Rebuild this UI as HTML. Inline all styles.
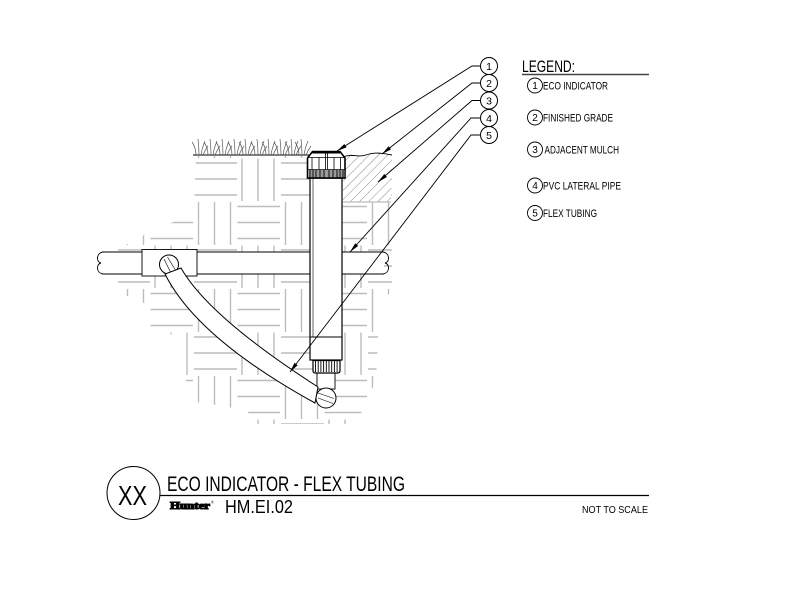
<!DOCTYPE html>
<html><head><meta charset="utf-8">
<style>html,body{margin:0;padding:0;background:#fff}svg{display:block}</style>
</head>
<body>
<svg width="792" height="612" viewBox="0 0 792 612" xmlns="http://www.w3.org/2000/svg" font-family="'Liberation Sans', Arial, sans-serif">
<defs>
  <pattern id="weave" patternUnits="userSpaceOnUse" x="237" y="158" width="87" height="87">
    <g stroke="#bcbcbc" stroke-width="1.4" fill="none">
      <path d="M5,0.5V43 M21,0.5V43 M37,0.5V43"/>
      <path d="M44,5H87 M44,21H87 M44,37H87"/>
      <path d="M0.5,48.5H43 M0.5,64.5H43 M0.5,80.5H43"/>
      <path d="M48.5,44V87 M64.5,44V87 M80.5,44V87"/>
    </g>
  </pattern>
  <clipPath id="soilclip">
    <polygon points="196,156 392,156 392,292 380,300 376,380 362,412 348,424 258,424 246,410 196,402 186,382 184,336 150,332 146,304 118,292 118,247 140,240 146,232 182,219 194,210"/>
  </clipPath>
  <pattern id="hatch" patternUnits="userSpaceOnUse" width="6.5" height="6.5" patternTransform="rotate(45)">
    <line x1="0" y1="0" x2="0" y2="6.5" stroke="#8a8a8a" stroke-width="1"/>
  </pattern>
  <g id="tuft" fill="none" stroke="#555" stroke-width="0.7">
    <path d="M-4,0 Q-4,-7 -8,-13 M-1,0 Q-1,-8 -2,-16 M1,0 Q2,-7 5,-14 M3,0 Q5,-5 8,-9"/>
  </g>
</defs>

<!-- soil basket-weave pattern -->
<rect x="100" y="150" width="300" height="280" fill="url(#weave)" clip-path="url(#soilclip)"/>

<!-- mulch -->
<path d="M343,157 C352,153 358,158 366,155 S382,153 392,155 L391,202 L343,202 Z" fill="#fff"/>
<path d="M343,157 C352,153 358,158 366,155 S382,153 392,155 L391,202 L343,202 Z" fill="url(#hatch)"/>
<path d="M343,157 C352,153 358,158 366,155 S382,153 392,155" fill="none" stroke="#000" stroke-width="0.9"/>
<line x1="343" y1="202" x2="391" y2="202" stroke="#bcbcbc" stroke-width="1.2"/>

<!-- grass and grade -->
<line x1="193" y1="155" x2="309" y2="155" stroke="#000" stroke-width="1"/>
<use href="#tuft" x="200" y="155"/>
<use href="#tuft" x="212" y="155"/>
<use href="#tuft" x="224" y="155"/>
<use href="#tuft" x="236" y="155"/>
<use href="#tuft" x="247" y="155"/>
<use href="#tuft" x="259" y="155"/>
<use href="#tuft" x="270" y="155"/>
<use href="#tuft" x="282" y="155"/>
<use href="#tuft" x="293" y="155"/>
<use href="#tuft" x="303" y="155"/>

<!-- PVC lateral pipe -->
<rect x="101" y="252" width="283" height="22" fill="#fff"/>
<g stroke="#000" stroke-width="0.9" fill="none">
  <line x1="102" y1="252" x2="384" y2="252"/>
  <line x1="102" y1="274" x2="384" y2="274"/>
  <path d="M103,252 C96,253 96,262 101,263 C96,264 96,273 103,274"/>
  <path d="M383,252 C390,253 390,262 385,263 C390,264 390,273 383,274"/>
</g>

<!-- tee fitting -->
<rect x="142" y="249.5" width="55" height="26.5" fill="#fff" stroke="#000" stroke-width="0.9"/>
<circle cx="169" cy="264.5" r="9.5" fill="#fff" stroke="#000" stroke-width="1"/>
<g stroke="#000" stroke-width="0.6">
  <line x1="164" y1="259" x2="171" y2="273"/>
  <line x1="167.5" y1="257" x2="176" y2="271"/>
</g>

<!-- elbow at bottom -->
<rect x="317" y="372" width="18" height="17" fill="#fff" stroke="#000" stroke-width="0.9"/>
<circle cx="326" cy="398" r="10" fill="#fff" stroke="#000" stroke-width="1"/>
<g stroke="#000" stroke-width="0.6">
  <line x1="318" y1="393" x2="334" y2="398.5"/>
  <line x1="318" y1="398" x2="333" y2="403.5"/>
</g>

<!-- flex tubing -->
<path d="M165,274 Q197,338 315,403 L318,387 Q209,317 181,268 Z" fill="#fff" stroke="#000" stroke-width="1"/>

<!-- riser body -->
<rect x="310" y="178" width="32" height="182" fill="#fff" stroke="#000" stroke-width="1.2"/>
<line x1="313" y1="178" x2="313" y2="337" stroke="#000" stroke-width="0.6"/>
<line x1="310" y1="337" x2="342" y2="337" stroke="#000" stroke-width="0.9"/>
<!-- ribbed section -->
<path d="M313,360.5 H340 V370.5 Q340,373 337.5,373 H315.5 Q313,373 313,370.5 Z" fill="#fff" stroke="#000" stroke-width="1.2"/>
<g stroke="#000" stroke-width="0.9">
  <line x1="315.5" y1="361" x2="315.5" y2="372"/>
  <line x1="318.2" y1="361" x2="318.2" y2="372"/>
  <line x1="320.9" y1="361" x2="320.9" y2="372"/>
  <line x1="323.6" y1="361" x2="323.6" y2="372"/>
  <line x1="326.3" y1="361" x2="326.3" y2="372"/>
  <line x1="329" y1="361" x2="329" y2="372"/>
  <line x1="331.7" y1="361" x2="331.7" y2="372"/>
  <line x1="334.4" y1="361" x2="334.4" y2="372"/>
  <line x1="337.1" y1="361" x2="337.1" y2="372"/>
</g>

<!-- eco indicator cap -->
<path d="M307.5,178 V158 L312.5,151.5 H340 L345,158 V178 Z" fill="#fff" stroke="#000" stroke-width="1.6"/>
<line x1="312.5" y1="152.5" x2="340" y2="152.5" stroke="#000" stroke-width="2"/>
<g stroke="#000" stroke-width="0.8" fill="none">
  <line x1="308" y1="157.5" x2="344.5" y2="157.5"/>
  <line x1="308" y1="169.5" x2="344.5" y2="169.5"/>
  <line x1="312" y1="157.5" x2="312" y2="169.5"/>
  <line x1="319" y1="157.5" x2="319" y2="169.5"/>
  <line x1="325.5" y1="153" x2="325.5" y2="169.5"/>
  <line x1="327.5" y1="153" x2="327.5" y2="169.5"/>
  <line x1="334" y1="157.5" x2="334" y2="169.5"/>
  <line x1="340.5" y1="157.5" x2="340.5" y2="169.5"/>
</g>
<rect x="308" y="170" width="36.5" height="7.5" fill="#9a9a9a"/>
<g stroke="#000" stroke-width="0.9">
  <line x1="310" y1="170" x2="310" y2="177.5"/>
  <line x1="313" y1="170" x2="313" y2="177.5"/>
  <line x1="316" y1="170" x2="316" y2="177.5"/>
  <line x1="320" y1="170" x2="320" y2="177.5"/>
  <line x1="324" y1="170" x2="324" y2="177.5"/>
  <line x1="329" y1="170" x2="329" y2="177.5"/>
  <line x1="333" y1="170" x2="333" y2="177.5"/>
  <line x1="337" y1="170" x2="337" y2="177.5"/>
  <line x1="340" y1="170" x2="340" y2="177.5"/>
  <line x1="343" y1="170" x2="343" y2="177.5"/>
</g>
<line x1="307.5" y1="178" x2="345" y2="178" stroke="#000" stroke-width="1.6"/>

<!-- leaders -->
<g stroke="#000" stroke-width="0.9" fill="none">
  <polyline points="480.5,66 472,66 337,151"/>
  <polyline points="480.5,83 472,83 382,154"/>
  <polyline points="480.5,100.5 472,100.5 378,182"/>
  <polyline points="480.5,118 471,118 350,252"/>
  <polyline points="480.5,135 471,135 290,372"/>
</g>
<g fill="#000">
  <polygon points="337,151 344.4,144.0 346.6,147.4"/>
  <polygon points="382,154 388.6,146.2 391.1,149.4"/>
  <polygon points="378,182 384.3,174.0 386.9,177.0"/>
  <polygon points="350,252 355.2,243.3 358.2,245.9"/>
  <polygon points="290,372 294.5,362.8 297.7,365.3"/>
</g>

<!-- callout circles -->
<g fill="#fff" stroke="#000" stroke-width="1">
  <circle cx="489" cy="66" r="8.5"/>
  <circle cx="489" cy="83" r="8.5"/>
  <circle cx="489" cy="100.5" r="8.5"/>
  <circle cx="489" cy="118" r="8.5"/>
  <circle cx="489" cy="135" r="8.5"/>
</g>
<g font-size="10.5" text-anchor="middle" fill="#000">
  <text x="489" y="70">1</text>
  <text x="489" y="87">2</text>
  <text x="489" y="104.5">3</text>
  <text x="489" y="122">4</text>
  <text x="489" y="139">5</text>
</g>

<!-- legend -->
<text x="522" y="72" font-size="17" textLength="53" lengthAdjust="spacingAndGlyphs">LEGEND:</text>
<line x1="522" y1="74.5" x2="649" y2="74.5" stroke="#444" stroke-width="1.5"/>
<g fill="#fff" stroke="#000" stroke-width="0.9">
  <circle cx="535" cy="85.5" r="7.5"/>
  <circle cx="535" cy="117.5" r="7.5"/>
  <circle cx="535" cy="149.5" r="7.5"/>
  <circle cx="535" cy="185.5" r="7.5"/>
  <circle cx="535" cy="213" r="7.5"/>
</g>
<g font-size="10" text-anchor="middle" fill="#000">
  <text x="535" y="89">1</text>
  <text x="535" y="121">2</text>
  <text x="535" y="153">3</text>
  <text x="535" y="189">4</text>
  <text x="535" y="216.5">5</text>
</g>
<g font-size="11" fill="#000">
  <text x="543" y="89.5" textLength="65" lengthAdjust="spacingAndGlyphs">ECO INDICATOR</text>
  <text x="543" y="121.5" textLength="70" lengthAdjust="spacingAndGlyphs">FINISHED GRADE</text>
  <text x="544.5" y="153.5" textLength="74.5" lengthAdjust="spacingAndGlyphs">ADJACENT MULCH</text>
  <text x="543" y="189.5" textLength="78" lengthAdjust="spacingAndGlyphs">PVC LATERAL PIPE</text>
  <text x="543" y="217" textLength="54" lengthAdjust="spacingAndGlyphs">FLEX TUBING</text>
</g>

<!-- title block -->
<circle cx="133.5" cy="493" r="26.5" fill="none" stroke="#000" stroke-width="1"/>
<text x="118" y="505" font-size="28" textLength="29" lengthAdjust="spacingAndGlyphs">XX</text>
<text x="167" y="491" font-size="21" textLength="238" lengthAdjust="spacingAndGlyphs">ECO INDICATOR - FLEX TUBING</text>
<line x1="160" y1="495.5" x2="649" y2="495.5" stroke="#000" stroke-width="1.2"/>
<text x="170" y="509" font-family="'Liberation Serif', serif" font-weight="bold" font-size="10.5" stroke="#000" stroke-width="1.1" textLength="40" lengthAdjust="spacingAndGlyphs">Hunter</text>
<text x="211" y="503.5" font-size="4">®</text>
<text x="225" y="513" font-size="18.5" textLength="68" lengthAdjust="spacingAndGlyphs">HM.EI.02</text>
<text x="582" y="513" font-size="10" textLength="66" lengthAdjust="spacingAndGlyphs">NOT TO SCALE</text>
</svg>
</body></html>
